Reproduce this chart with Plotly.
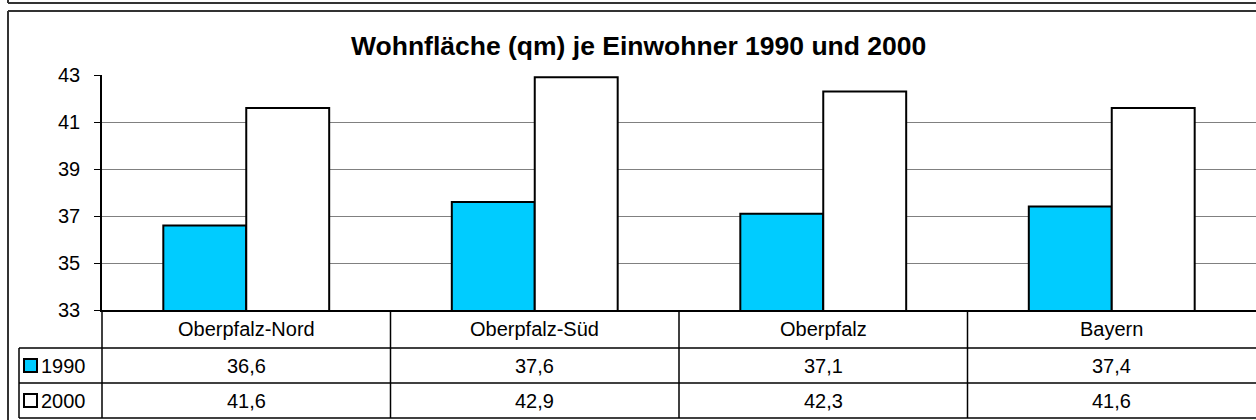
import plotly.graph_objects as go

categories = ["Oberpfalz-Nord", "Oberpfalz-Süd", "Oberpfalz", "Bayern"]
series_names = ["1990", "2000"]
values_1990 = [36.6, 37.6, 37.1, 37.4]
values_2000 = [41.6, 42.9, 42.3, 41.6]
y_ticks = [33, 35, 37, 39, 41, 43]
title_text = "Wohnfläche (qm) je Einwohner 1990 und 2000"

W, H = 1256, 420
FONT = "Liberation Sans, Arial, sans-serif"
colors = ["#00CCFF", "#FFFFFF"]
series_values = [values_1990, values_2000]


def px(x):
    return x / W


def py(y):
    return 1 - y / H


plot_left, plot_top, plot_bottom = 102, 75, 310
row_lines = [348, 383, 418]
label_left = 19

fig = go.Figure()
for name, vals, col in zip(series_names, series_values, colors):
    fig.add_trace(go.Bar(
        x=list(range(len(categories))), y=vals, name=name,
        marker=dict(color=col, line=dict(color="black", width=2)),
        showlegend=False, hoverinfo="skip",
    ))

shapes = []
annotations = []

# outer frames
shapes.append(dict(type="line", xref="paper", yref="paper", x0=px(8), x1=1, y0=py(3), y1=py(3),
                   line=dict(color="#333333", width=2)))
shapes.append(dict(type="line", xref="paper", yref="paper", x0=px(8), x1=px(8), y0=py(0), y1=py(3),
                   line=dict(color="#333333", width=2)))
shapes.append(dict(type="line", xref="paper", yref="paper", x0=px(8), x1=1, y0=py(11), y1=py(11),
                   line=dict(color="#333333", width=2)))
shapes.append(dict(type="line", xref="paper", yref="paper", x0=px(8), x1=px(8), y0=py(11), y1=0,
                   line=dict(color="#333333", width=2)))

# table horizontal lines
for ry in row_lines:
    shapes.append(dict(type="line", xref="paper", yref="paper", x0=px(label_left), x1=1,
                       y0=py(ry), y1=py(ry), line=dict(color="black", width=1.5)))
# label column left border
shapes.append(dict(type="line", xref="paper", yref="paper", x0=px(label_left), x1=px(label_left),
                   y0=py(row_lines[0]), y1=py(row_lines[-1]), line=dict(color="black", width=1.5)))
# left border of value area (continuation of y axis)
shapes.append(dict(type="line", xref="paper", yref="paper", x0=px(plot_left), x1=px(plot_left),
                   y0=py(plot_bottom), y1=py(row_lines[-1]), line=dict(color="black", width=1.5)))
# column separators
for i in range(len(categories) - 1):
    shapes.append(dict(type="line", xref="x", yref="paper", x0=i + 0.5, x1=i + 0.5,
                       y0=py(plot_bottom), y1=py(row_lines[-1]), line=dict(color="black", width=1.5)))

# category header and values
header_y = (plot_bottom + row_lines[0]) / 2
row_centers = [(row_lines[0] + row_lines[1]) / 2, (row_lines[1] + row_lines[2]) / 2]
for i, c in enumerate(categories):
    annotations.append(dict(x=i, y=py(header_y), xref="x", yref="paper", text=c, showarrow=False,
                            font=dict(family=FONT, size=20, color="black"), xanchor="center", yanchor="middle"))
    for vals, rc in zip(series_values, row_centers):
        annotations.append(dict(x=i, y=py(rc), xref="x", yref="paper",
                                text=f"{vals[i]:.1f}".replace(".", ","), showarrow=False,
                                font=dict(family=FONT, size=20, color="black"),
                                xanchor="center", yanchor="middle"))

# legend keys in table
for name, col, rc in zip(series_names, colors, row_centers):
    shapes.append(dict(type="rect", xref="paper", yref="paper", x0=px(24), x1=px(37),
                       y0=py(rc - 6.5), y1=py(rc + 6.5), fillcolor=col,
                       line=dict(color="black", width=2)))
    annotations.append(dict(x=px(39), y=py(rc), xref="paper", yref="paper", text=name, showarrow=False,
                            font=dict(family=FONT, size=20, color="black"), xanchor="left", yanchor="middle"))

# title
annotations.append(dict(x=px(638), y=py(46), xref="paper", yref="paper", text=f"<b>{title_text}</b>",
                        showarrow=False, font=dict(family=FONT, size=26.5, color="black"),
                        xanchor="center", yanchor="middle"))

fig.update_layout(
    width=W, height=H, autosize=False,
    margin=dict(l=0, r=0, t=0, b=0, pad=0, autoexpand=False),
    paper_bgcolor="white", plot_bgcolor="white",
    barmode="group", bargap=0.425, bargroupgap=0,
    shapes=shapes, annotations=annotations,
    xaxis=dict(domain=[px(plot_left), 1], range=[-0.5, len(categories) - 0.5],
               showticklabels=False, showgrid=False, zeroline=False, ticks="", automargin=False,
               showline=True, linecolor="black", linewidth=2),
    yaxis=dict(domain=[py(plot_bottom), py(plot_top)], range=[y_ticks[0], y_ticks[-1]],
               tickvals=y_ticks, ticktext=[str(t) for t in y_ticks], automargin=False,
               showgrid=True, gridcolor="#808080", gridwidth=1.2, zeroline=False,
               showline=True, linecolor="black", linewidth=1.5,
               ticks="outside", ticklen=6, tickcolor="black", ticklabelstandoff=10,
               tickfont=dict(family=FONT, size=20, color="black")),
)

fig.write_html("out.html", config={"displayModeBar": False},
               post_script="document.body.style.margin='0';document.body.style.overflow='hidden';")
